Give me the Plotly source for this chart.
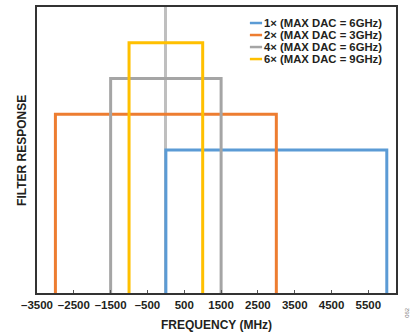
import plotly.graph_objects as go

# interpolation modes and their passband edges (MHz) / relative response
modes = ["1× (MAX DAC = 6GHz)", "2× (MAX DAC = 3GHz)",
         "4× (MAX DAC = 6GHz)", "6× (MAX DAC = 9GHz)"]
band_lo = [0, -3000, -1500, -1000]
band_hi = [6000, 3000, 1500, 1000]
response = [0.5, 0.625, 0.75, 0.875]
colors = ["#5B9BD5", "#ED7D31", "#A5A5A5", "#FFC000"]

tick_vals = [-3500, -2500, -1500, -500, 500, 1500, 2500, 3500, 4500, 5500]

FONT = "Liberation Sans, Arial, sans-serif"
TXT = "#231F20"

fig = go.Figure()
for name, lo, hi, h, c in zip(modes, band_lo, band_hi, response, colors):
    fig.add_trace(go.Scatter(
        x=[lo, lo, hi, hi],
        y=[0, h, h, 0],
        mode="lines",
        name=name,
        line=dict(color=c, width=3),
        showlegend=False,
    ))

# compact legend, top right inside the plot
for i, (name, c) in enumerate(zip(modes, colors)):
    yy = 0.944 - i * 0.042
    fig.add_shape(type="line", xref="paper", yref="paper",
                  x0=0.593, x1=0.627, y0=yy, y1=yy,
                  line=dict(color=c, width=2.5))
    fig.add_annotation(text=f"<b>{name}</b>", xref="paper", yref="paper",
                       x=0.630, y=yy, xanchor="left", yanchor="middle",
                       showarrow=False, borderpad=0,
                       font=dict(family=FONT, size=11.3, color=TXT))

fig.update_layout(
    width=414,
    height=335,
    margin=dict(l=37, r=18, t=7, b=42, autoexpand=False),
    paper_bgcolor="white",
    plot_bgcolor="white",
    font=dict(family=FONT, color=TXT, size=11),
    showlegend=False,
    xaxis=dict(
        range=[-3500, 6250],
        tickvals=tick_vals,
        ticktext=["<b>" + f"{v}".replace("-", "–") + "</b>" for v in tick_vals],
        ticks="inside",
        ticklen=3,
        tickwidth=1,
        tickcolor="#555555",
        tickfont=dict(family=FONT, size=11.5, color=TXT),
        showgrid=False,
        zeroline=True,
        zerolinecolor="#BFBFBF",
        zerolinewidth=3,
        showline=True,
        linecolor="#333333",
        linewidth=2,
        mirror=True,
        automargin=False,
    ),
    yaxis=dict(
        range=[0, 1],
        showticklabels=False,
        ticks="",
        showgrid=False,
        zeroline=False,
        showline=True,
        linecolor="#333333",
        linewidth=2,
        mirror=True,
        automargin=False,
    ),
)

# axis titles
fig.add_annotation(text="<b>FREQUENCY (MHz)</b>", xref="paper", yref="paper",
                   x=0.5, y=-0.112, xanchor="center", yanchor="middle",
                   showarrow=False, font=dict(family=FONT, size=12, color=TXT))
fig.add_annotation(text="<b>FILTER RESPONSE</b>", xref="paper", yref="paper",
                   x=-0.042, y=0.5, xanchor="center", yanchor="middle",
                   textangle=-90, showarrow=False,
                   font=dict(family=FONT, size=12, color=TXT))

# figure number in the corner
fig.add_annotation(
    text="062", x=1.045, y=-0.095, xref="paper", yref="paper",
    showarrow=False, textangle=-90,
    font=dict(family=FONT, size=6, color="#777777"),
)

# page has a default 8px body margin; drop it so the chart sits at 0,0
fig.write_html("out.html", config={"displayModeBar": False},
               post_script="document.body.style.margin='0';")
